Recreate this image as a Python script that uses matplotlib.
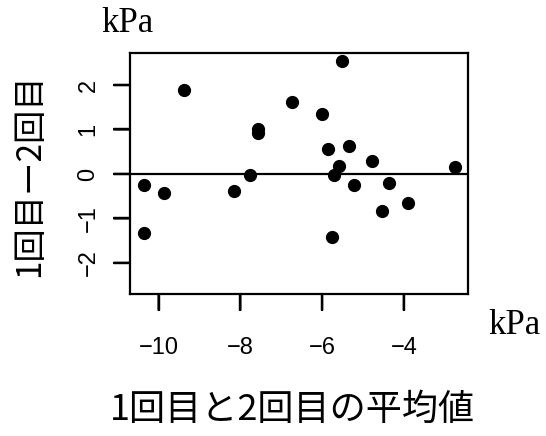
import matplotlib
matplotlib.use("Agg")
import matplotlib.pyplot as plt
from matplotlib.transforms import blended_transform_factory

mean_vals = [-10.36, -10.36, -9.86, -9.38, -8.15, -7.77, -7.56, -7.56, -6.73, -6.00, -5.51,
             -5.85, -5.34, -5.59, -5.71, -5.75, -5.22, -4.77, -4.37, -4.53, -3.89, -2.76]
diff_vals = [-0.25, -1.32, -0.43, 1.88, -0.38, -0.02, 1.01, 0.92, 1.61, 1.34, 2.55,
             0.56, 0.62, 0.17, -0.03, -1.42, -0.25, 0.30, -0.21, -0.83, -0.65, 0.16]
x_ticks = [-10, -8, -6, -4]
y_ticks = [-2, -1, 0, 1, 2]
x_label = "1回目と2回目の平均値"
y_label = "1回目ー2回目"
unit = "kPa"

W, H = 546, 436
fig = plt.figure(figsize=(W/100, H/100), dpi=100)
left_px, right_px, top_px, bot_px = 130, 468, 53, 294
ax_w_px, ax_h_px = right_px - left_px, bot_px - top_px
ax = fig.add_axes([left_px/W, 1-bot_px/H, ax_w_px/W, ax_h_px/H])
ax.plot(mean_vals, diff_vals, 'o', color='black', markersize=8.5, zorder=3)
ax.axhline(0, color='black', linewidth=1.6)
ax.set_xlim(-10.70, -2.43)
ax.set_ylim(-2.70, 2.72)
ax.set_xticks(x_ticks)
ax.set_yticks(y_ticks)
ax.set_xticklabels([f"\u2212{abs(v)}" if v < 0 else str(v) for v in x_ticks])
ax.set_yticklabels([f"\u2212{abs(v)}" if v < 0 else str(v) for v in y_ticks], va='center')
ax.tick_params(axis='both', which='major', length=12, width=1.6, direction='out',
               color='black', labelsize=17, labelfontfamily='Liberation Sans',
               labelcolor='black')
ax.tick_params(axis='x', pad=19)
ax.tick_params(axis='y', pad=10, labelrotation=90)
for s in ax.spines.values():
    s.set_linewidth(1.6)
    s.set_color('black')

# explicit tick marks (R style), drawn as line collections and annotation lines
tick_px = 16
tx = blended_transform_factory(ax.transData, ax.transAxes)
ty = blended_transform_factory(ax.transAxes, ax.transData)
ax.vlines(x_ticks, -tick_px/ax_h_px, 0, transform=tx, colors='black',
          linewidth=1.6, clip_on=False)
ax.hlines(y_ticks, -tick_px/ax_w_px, 0, transform=ty, colors='black',
          linewidth=1.6, clip_on=False)
for v in x_ticks:
    ax.annotate('', xy=(v, 0), xycoords=tx, xytext=(v, -tick_px/ax_h_px), textcoords=tx,
                arrowprops=dict(arrowstyle='-', color='black', lw=1.6,
                                shrinkA=0, shrinkB=0), annotation_clip=False)
for v in y_ticks:
    ax.annotate('', xy=(0, v), xycoords=ty, xytext=(-tick_px/ax_w_px, v), textcoords=ty,
                arrowprops=dict(arrowstyle='-', color='black', lw=1.6,
                                shrinkA=0, shrinkB=0), annotation_clip=False)

fig.text(30/W, 1-175/H, y_label, rotation=90, ha='center', va='center',
         family=['Noto Sans CJK JP'], fontsize=24)
fig.text(292/W, 1-410/H, x_label, ha='center', va='center',
         family=['Noto Sans CJK JP'], fontsize=26)
fig.text(127/W, 1-24/H, unit, ha='center', va='center',
         family='Liberation Serif', fontsize=25)
fig.text(514/W, 1-325/H, unit, ha='center', va='center',
         family='Liberation Serif', fontsize=25)

fig.savefig("out.png", dpi=100)
